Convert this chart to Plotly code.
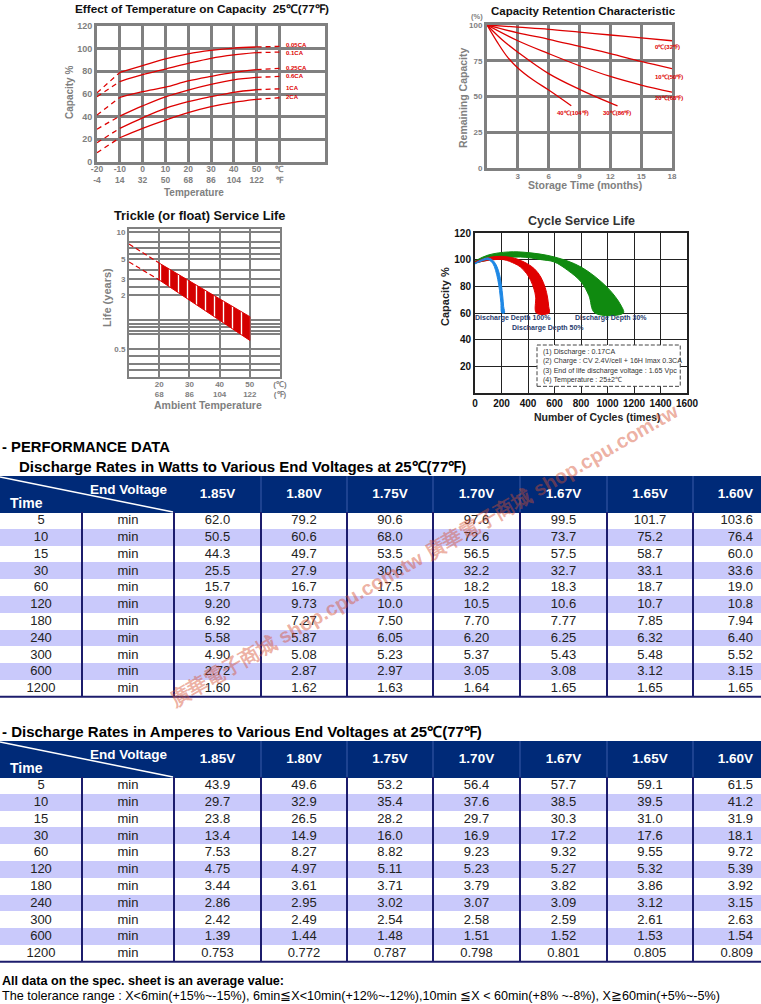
import plotly.graph_objects as go

W, H = 761, 1004
def fx(px): return px / W
def fy(py): return 1 - py / H

SANS = "Liberation Sans, Arial, sans-serif"
GRAY = "#808080"
RED = "#dd0000"

# ---------------- Chart 1: Effect of temperature on capacity ----------------
temp_c = [-20, -10, 0, 10, 20, 30, 40, 50, 60]
temp_c_labels = ["-20", "-10", "0", "10", "20", "30", "40", "50", "℃"]
temp_f_labels = ["-4", "14", "32", "50", "68", "86", "104", "122", "℉"]
rate_names = ["0.05CA", "0.1CA", "0.25CA", "0.6CA", "1CA", "2CA"]
cap_005 = [61, 79, 85, 91, 95.5, 98.5, 100.5, 101.5, 102]
cap_01 = [57.5, 71, 77, 82, 87, 91.5, 94.5, 96.5, 97]
cap_025 = [41.5, 57, 62, 66, 71.5, 75.5, 79, 81.5, 82.6]
cap_06 = [29, 40.5, 49.5, 57.5, 63.5, 68.5, 72.5, 74.7, 75.5]
cap_1 = [17, 29.7, 39, 47.3, 53.2, 57.6, 61.5, 63.8, 64.6]
cap_2 = [8.2, 21.4, 29.7, 37, 43.5, 48.8, 52.6, 55.3, 56.7]
cap_series = [cap_005, cap_01, cap_025, cap_06, cap_1, cap_2]
rate_label_y = [103.6, 96.6, 83.2, 75.6, 65, 57]

# ---------------- Chart 2: Capacity retention ----------------
months = [0, 3, 6, 9, 12, 15, 18]
month_labels = ["3", "6", "9", "12", "15", "18"]
ret_0c = [100, 98.5, 97, 95, 93, 91, 89]
ret_10c = [100, 94.5, 90, 85, 80, 74.5, 69.5]
ret_20c = [100, 89, 80, 71.5, 64, 58, 53]
months_30c = [0, 1.5, 3, 6, 9, 12, 12.7]
ret_30c = [100, 89.5, 81, 66, 55, 45.5, 43.5]
months_40c = [0, 1, 2, 3, 4.5, 6, 8.2]
ret_40c = [100, 88, 77.5, 70, 61.5, 54.5, 43.5]
ret_labels = ["0℃(32℉)", "10℃(50℉)", "20℃(68℉)", "30℃(86℉)", "40℃(104℉)"]
ret_label_pos = [(17.6, 84.6), (17.7, 63.6), (17.7, 49), (12.6, 38.5), (8.4, 38.5)]

# ---------------- Chart 3: Trickle service life ----------------
amb_c = [10, 20, 50]
life_upper = [7.35, 4.5, 1.14]
life_lower = [4.64, 2.92, 0.62]
amb_tick_c = ["20", "30", "40", "50", "(℃)"]
amb_tick_f = ["68", "86", "104", "122", "(℉)"]
life_ticks = [10, 5, 3, 2, 0.5]
life_minor = [7.74, 6.64, 5.69, 3.77, 2.44, 1.047, 0.946, 0.865, 0.79, 0.731, 0.416, 0.339, 0.29]

# ---------------- Chart 4: Cycle service life ----------------
cyc_g_out = [0, 100, 254, 400, 600, 800, 1000, 1100, 1120]
cap_g_out = [99, 103.5, 105.8, 105.3, 102, 94.5, 79, 66, 60]
cyc_g_in = [0, 150, 343, 500, 597, 700, 801, 860, 905]
cap_g_in = [97.5, 100.5, 102, 100, 98.3, 92, 83.3, 73, 60]
cyc_r_out = [0, 100, 190, 300, 394, 450, 496, 530, 547, 556, 559]
cap_r_out = [98.5, 101.5, 102.5, 101, 97, 93, 87, 79, 72, 65, 60]
cyc_r_in = [0, 100, 216, 300, 343, 390, 420, 445, 458, 463]
cap_r_in = [97.5, 99.5, 100, 97, 94.5, 89.5, 84.5, 78, 72, 60]
cyc_b_out = [0, 50, 100, 140, 165, 185, 198, 210, 216, 222]
cap_b_out = [97.5, 100, 101.3, 99, 95, 89, 82, 72, 65, 60]
cyc_b_in = [0, 50, 100, 135, 155, 172, 185, 195, 203]
cap_b_in = [96.8, 99, 100, 97, 92, 85, 77, 68, 60]
depth_labels = ["Discharge Depth 100%", "Discharge Depth 50%", "Discharge Depth 30%"]
depth_label_pos = [(288, 56), (553, 48.5), (1023, 56)]
cond_lines = ["(1) Discharge : 0.17CA",
              "(2) Charge : CV 2.4V/cell + 16H Imax 0.3CA",
              "(3) End of life discharge voltage : 1.65 Vpc",
              "(4) Temperature : 25±2℃"]

# ---------------- Tables ----------------
times = ["5", "10", "15", "30", "60", "120", "180", "240", "300", "600", "1200"]
voltages = ["1.85V", "1.80V", "1.75V", "1.70V", "1.67V", "1.65V", "1.60V"]
watts = [
    ["62.0", "50.5", "44.3", "25.5", "15.7", "9.20", "6.92", "5.58", "4.90", "2.72", "1.60"],
    ["79.2", "60.6", "49.7", "27.9", "16.7", "9.73", "7.27", "5.87", "5.08", "2.87", "1.62"],
    ["90.6", "68.0", "53.5", "30.6", "17.5", "10.0", "7.50", "6.05", "5.23", "2.97", "1.63"],
    ["97.6", "72.6", "56.5", "32.2", "18.2", "10.5", "7.70", "6.20", "5.37", "3.05", "1.64"],
    ["99.5", "73.7", "57.5", "32.7", "18.3", "10.6", "7.77", "6.25", "5.43", "3.08", "1.65"],
    ["101.7", "75.2", "58.7", "33.1", "18.7", "10.7", "7.85", "6.32", "5.48", "3.12", "1.65"],
    ["103.6", "76.4", "60.0", "33.6", "19.0", "10.8", "7.94", "6.40", "5.52", "3.15", "1.65"],
]
amps = [
    ["43.9", "29.7", "23.8", "13.4", "7.53", "4.75", "3.44", "2.86", "2.42", "1.39", "0.753"],
    ["49.6", "32.9", "26.5", "14.9", "8.27", "4.97", "3.61", "2.95", "2.49", "1.44", "0.772"],
    ["53.2", "35.4", "28.2", "16.0", "8.82", "5.11", "3.71", "3.02", "2.54", "1.48", "0.787"],
    ["56.4", "37.6", "29.7", "16.9", "9.23", "5.23", "3.79", "3.07", "2.58", "1.51", "0.798"],
    ["57.7", "38.5", "30.3", "17.2", "9.32", "5.27", "3.82", "3.09", "2.59", "1.52", "0.801"],
    ["59.1", "39.5", "31.0", "17.6", "9.55", "5.32", "3.86", "3.12", "2.61", "1.53", "0.805"],
    ["61.5", "41.2", "31.9", "18.1", "9.72", "5.39", "3.92", "3.15", "2.63", "1.54", "0.809"],
]

fig = go.Figure()
annotations = []
shapes = []

def ann(text, x, y, size, color="#000", bold=False, xanchor="center", angle=0,
        family=SANS, yanchor="middle"):
    annotations.append(dict(text=text, x=fx(x), y=fy(y), xref="paper", yref="paper",
                            showarrow=False, xanchor=xanchor, yanchor=yanchor, textangle=angle,
                            font=dict(size=size, color=color, family=family,
                                      weight="bold" if bold else "normal")))

# ---- chart 1 traces
for name, vals, ly in zip(rate_names, cap_series, rate_label_y):
    fig.add_trace(go.Scatter(x=temp_c[1:8], y=vals[1:8], mode="lines", xaxis="x", yaxis="y",
                             line=dict(color=RED, width=1.3, shape="spline"), hoverinfo="skip"))
    for seg in (slice(0, 2), slice(7, 9)):
        fig.add_trace(go.Scatter(x=temp_c[seg], y=vals[seg], mode="lines", xaxis="x", yaxis="y",
                                 line=dict(color=RED, width=1.3, dash="5px,4px"), hoverinfo="skip"))
    annotations.append(dict(text=name, x=62.3, y=ly, xref="x", yref="y", showarrow=False,
                            xanchor="left", borderpad=0,
                            font=dict(size=6, color=RED, family=SANS, weight="bold")))
for yv in (100, 80, 60):
    shapes.append(dict(type="line", xref="x", yref="y", x0=80, x1=83.5, y0=yv, y1=yv,
                       line=dict(color=GRAY, width=3), layer="below"))

# ---- chart 2 traces
for xs, ys in [(months, ret_0c), (months, ret_10c), (months, ret_20c),
               (months_30c, ret_30c), (months_40c, ret_40c)]:
    fig.add_trace(go.Scatter(x=xs, y=ys, mode="lines", xaxis="x2", yaxis="y2",
                             line=dict(color=RED, width=1.3, shape="spline"), hoverinfo="skip"))
for lab, (lx, ly) in zip(ret_labels, ret_label_pos):
    annotations.append(dict(text=lab, x=lx, y=ly, xref="x2", yref="y2", showarrow=False,
                            font=dict(size=6, color=RED, family=SANS, weight="bold")))

# ---- chart 3 traces
fig.add_trace(go.Scatter(x=amb_c[0:2], y=life_upper[0:2], mode="lines", xaxis="x3", yaxis="y3",
                         line=dict(color=RED, width=1.2, dash="5px,3px"), hoverinfo="skip"))
fig.add_trace(go.Scatter(x=amb_c[0:2], y=life_lower[0:2], mode="lines", xaxis="x3", yaxis="y3",
                         line=dict(color=RED, width=1.2, dash="5px,3px"), hoverinfo="skip"))
fig.add_trace(go.Scatter(x=amb_c[1:] + amb_c[1:][::-1] + [amb_c[1]],
                         y=life_upper[1:] + life_lower[1:][::-1] + [life_upper[1]],
                         mode="lines", fill="toself", xaxis="x3", yaxis="y3",
                         fillcolor="#d40000",
                         fillpattern=dict(shape="|", fgcolor="white", bgcolor="#d40000",
                                          size=9, solidity=0.15, fillmode="replace"),
                         line=dict(color=RED, width=1), hoverinfo="skip"))

# ---- chart 4 traces
for xo, yo, xi, yi, col in [(cyc_g_out, cap_g_out, cyc_g_in, cap_g_in, "#108a10"),
                            (cyc_r_out, cap_r_out, cyc_r_in, cap_r_in, "#e00000"),
                            (cyc_b_out, cap_b_out, cyc_b_in, cap_b_in, "#1e88e5")]:
    fig.add_trace(go.Scatter(x=xo + xi[::-1], y=yo + yi[::-1], mode="lines", fill="toself",
                             fillcolor=col, line=dict(color=col, width=1, shape="spline"),
                             xaxis="x4", yaxis="y4", hoverinfo="skip"))
for lab, (lx, ly) in zip(depth_labels, depth_label_pos):
    annotations.append(dict(text=lab, x=lx, y=ly, xref="x4", yref="y4", showarrow=False,
                            font=dict(size=7, color="#283c6e", family=SANS, weight="bold")))
shapes.append(dict(type="rect", xref="x4", yref="y4", x0=468, x1=1549, y0=5, y1=36,
                   line=dict(color="#444", width=1, dash="4px,2px"), fillcolor="white"))
for i, line in enumerate(cond_lines):
    annotations.append(dict(text=line, x=495, y=30.8 - i * 7.1, xref="x4", yref="y4",
                            showarrow=False, xanchor="left",
                            font=dict(size=7.1, color="#333", family=SANS)))

# ---- tables
col_widths = [82, 92, 87, 86, 86, 87, 87, 86, 68]
row_fill = ["white" if i % 2 == 0 else "#c9c9fb" for i in range(len(times))]
HEAD_H, ROW_H = 36, 16.8
NAVY = "#002a78"
CLEAR = "rgba(0,0,0,0)"
TEXT_LIFT = 5.5      # plotly places cell text below a fixed top padding
HEAD_TEXT_DROP = 4

def add_table(top, data):
    nrow = len(times)
    bottom = top + HEAD_H + ROW_H * nrow
    aligns = ["center"] * 8 + ["right"]
    # fills
    fig.add_trace(go.Table(
        domain=dict(x=[0, 1], y=[fy(bottom + 4), fy(top)]),
        columnwidth=col_widths,
        header=dict(values=[""] * 9, height=HEAD_H, fill_color=NAVY,
                    line=dict(color=NAVY, width=1)),
        cells=dict(values=[[""] * nrow] * 9, height=ROW_H,
                   fill_color=[row_fill] * 9, line=dict(color=CLEAR, width=0))))
    # texts
    t2 = top + HEAD_TEXT_DROP
    fig.add_trace(go.Table(
        domain=dict(x=[0, 1], y=[fy(bottom + 4), fy(t2)]),
        columnwidth=col_widths,
        header=dict(values=["", ""] + voltages, height=HEAD_H - HEAD_TEXT_DROP - TEXT_LIFT,
                    fill_color=CLEAR, line=dict(color=CLEAR, width=0), align=aligns,
                    font=dict(family=SANS, size=13.5, color="white", weight="bold")),
        cells=dict(values=[times, ["min"] * nrow] + data, height=ROW_H,
                   fill_color=CLEAR, line=dict(color=CLEAR, width=0),
                   align=aligns, font=dict(family=SANS, size=13, color="#222"))))
    body_top = top + HEAD_H
    x = 0
    for i, w in enumerate(col_widths[:-1]):
        x += w
        shapes.append(dict(type="line", xref="paper", yref="paper", x0=fx(x), x1=fx(x),
                           y0=fy(body_top), y1=fy(bottom), line=dict(color="#1c1c6c", width=2)))
        if i >= 2:
            shapes.append(dict(type="line", xref="paper", yref="paper", x0=fx(x), x1=fx(x),
                               y0=fy(top), y1=fy(body_top), line=dict(color="#3a5aa8", width=1)))
    shapes.append(dict(type="line", xref="paper", yref="paper", x0=0, x1=1,
                       y0=fy(bottom), y1=fy(bottom), line=dict(color="#1c1c6c", width=2)))
    shapes.append(dict(type="line", xref="paper", yref="paper", x0=0, x1=fx(173),
                       y0=fy(top + 1), y1=fy(body_top), line=dict(color="white", width=1.5)))
    ann("End Voltage", 128, top + 13.5, 13.5, "white", True)
    ann("Time", 26, top + 27, 14, "white", True)

add_table(476, watts)
add_table(741, amps)

# ---- texts
ann("Effect of Temperature on Capacity  25℃(77℉)", 202, 9, 11.8, "#111", True)
ann("Capacity %", 69, 93, 10, GRAY, True, angle=-90)
ann("Temperature", 194, 192, 10, GRAY, True)
ann("Capacity Retention Characteristic", 583, 11, 11.5, "#111", True)
ann("(%)", 477, 17, 7.5, GRAY, True)
ann("Remaining Capacity", 463, 98, 10.5, GRAY, True, angle=-90)
ann("Storage Time (months)", 585, 185, 10.5, GRAY, True)
ann("Trickle (or float) Service Life", 199, 215, 12.8, "#111", True)
ann("Life (years)", 107, 298, 11, GRAY, True, angle=-90)
ann("Ambient Temperature", 208, 405, 10.5, GRAY, True)
ann("Cycle Service Life", 581, 221, 12.5, "#333", True)
ann("Capacity %", 445, 297, 11, "#222", True, angle=-90)
ann("Number of Cycles (times)", 597, 417, 10.5, "#222", True)

ann("- PERFORMANCE DATA", 0, 447, 14.8, "#000", True, xanchor="left")
ann("Discharge Rates in Watts to Various End Voltages at 25℃(77℉)", 17, 466, 15, "#000", True, xanchor="left")
ann("- Discharge Rates in Amperes to Various End Voltages at 25℃(77℉)", 0, 731, 15, "#000", True, xanchor="left")
ann("All data on the spec. sheet is an average value:", 0, 981, 12.6, "#000", True, xanchor="left")
ann("The tolerance range : X<6min(+15%~-15%), 6min≦X<10min(+12%~-12%),10min ≦X < 60min(+8% ~-8%), X≧60min(+5%~-5%)",
    0, 996, 12.6, "#000", False, xanchor="left")

# watermark
ann("廣華電子商城 shop.cpu.com.tw 廣華電子商城 shop.cpu.com.tw", 424, 555, 20,
    "rgba(214,80,50,0.45)", True, angle=-30)

def axis_style(color, gw, lw, tsize, tcolor, standoff=0):
    return dict(showgrid=True, gridcolor=color, gridwidth=gw, showline=True, linecolor=color,
                linewidth=lw, mirror=True, zeroline=False, ticks="", fixedrange=True,
                ticklabelstandoff=standoff,
                tickfont=dict(size=tsize, color=tcolor, family=SANS, weight="bold"))

fig.update_layout(
    autosize=True, margin=dict(l=0, r=0, t=0, b=0, autoexpand=False),
    paper_bgcolor="white", plot_bgcolor="white", showlegend=False,
    font=dict(family=SANS),
    xaxis=dict(domain=[fx(97), fx(325)], range=[-20, 80], anchor="y",
               tickvals=temp_c, ticktext=[c + "<br>" + f for c, f in zip(temp_c_labels, temp_f_labels)],
               **axis_style(GRAY, 3, 3, 8.5, GRAY, -3)),
    yaxis=dict(domain=[fy(162), fy(26)], range=[0, 120], anchor="x",
               tickvals=[0, 20, 40, 60, 80, 100, 120], **axis_style(GRAY, 3, 3, 9, GRAY)),
    xaxis2=dict(domain=[fx(487), fx(672)], range=[0, 18], anchor="y2",
                tickvals=months[1:], ticktext=month_labels, **axis_style(GRAY, 3, 3, 8, GRAY, -2)),
    yaxis2=dict(domain=[fy(168), fy(25)], range=[0, 100], anchor="x2",
                tickvals=[0, 25, 50, 75, 100], **axis_style(GRAY, 3, 3, 8, GRAY)),
    xaxis3=dict(domain=[fx(129), fx(280)], range=[10, 60], anchor="y3",
                tickvals=[20, 30, 40, 50, 60],
                ticktext=[c + "<br>" + f for c, f in zip(amb_tick_c, amb_tick_f)],
                **axis_style(GRAY, 2, 2, 8, GRAY, -2)),
    yaxis3=dict(domain=[fy(377), fy(229)], type="log", range=[-0.615, 1.033], anchor="x3",
                tickvals=life_ticks + life_minor,
                ticktext=[str(v) for v in life_ticks] + [""] * len(life_minor),
                **axis_style(GRAY, 2, 2, 8, GRAY)),
    xaxis4=dict(domain=[fx(475), fx(687)], range=[0, 1600], anchor="y4", dtick=200, tick0=0,
                **axis_style("#222", 1, 2, 10, "#111")),
    yaxis4=dict(domain=[fy(393), fy(233)], range=[0, 120], anchor="x4",
                tickvals=[20, 40, 60, 80, 100, 120], **axis_style("#222", 1, 2, 10, "#111")),
    annotations=annotations, shapes=shapes,
)

# The page's default body margin would shift the figure; pin the plot div to the corner.
fig.write_html("out.html",
               default_width=f"{W}px;position:absolute;left:0;top:0",
               default_height=f"{H}px",
               config={"displayModeBar": False, "responsive": False})
